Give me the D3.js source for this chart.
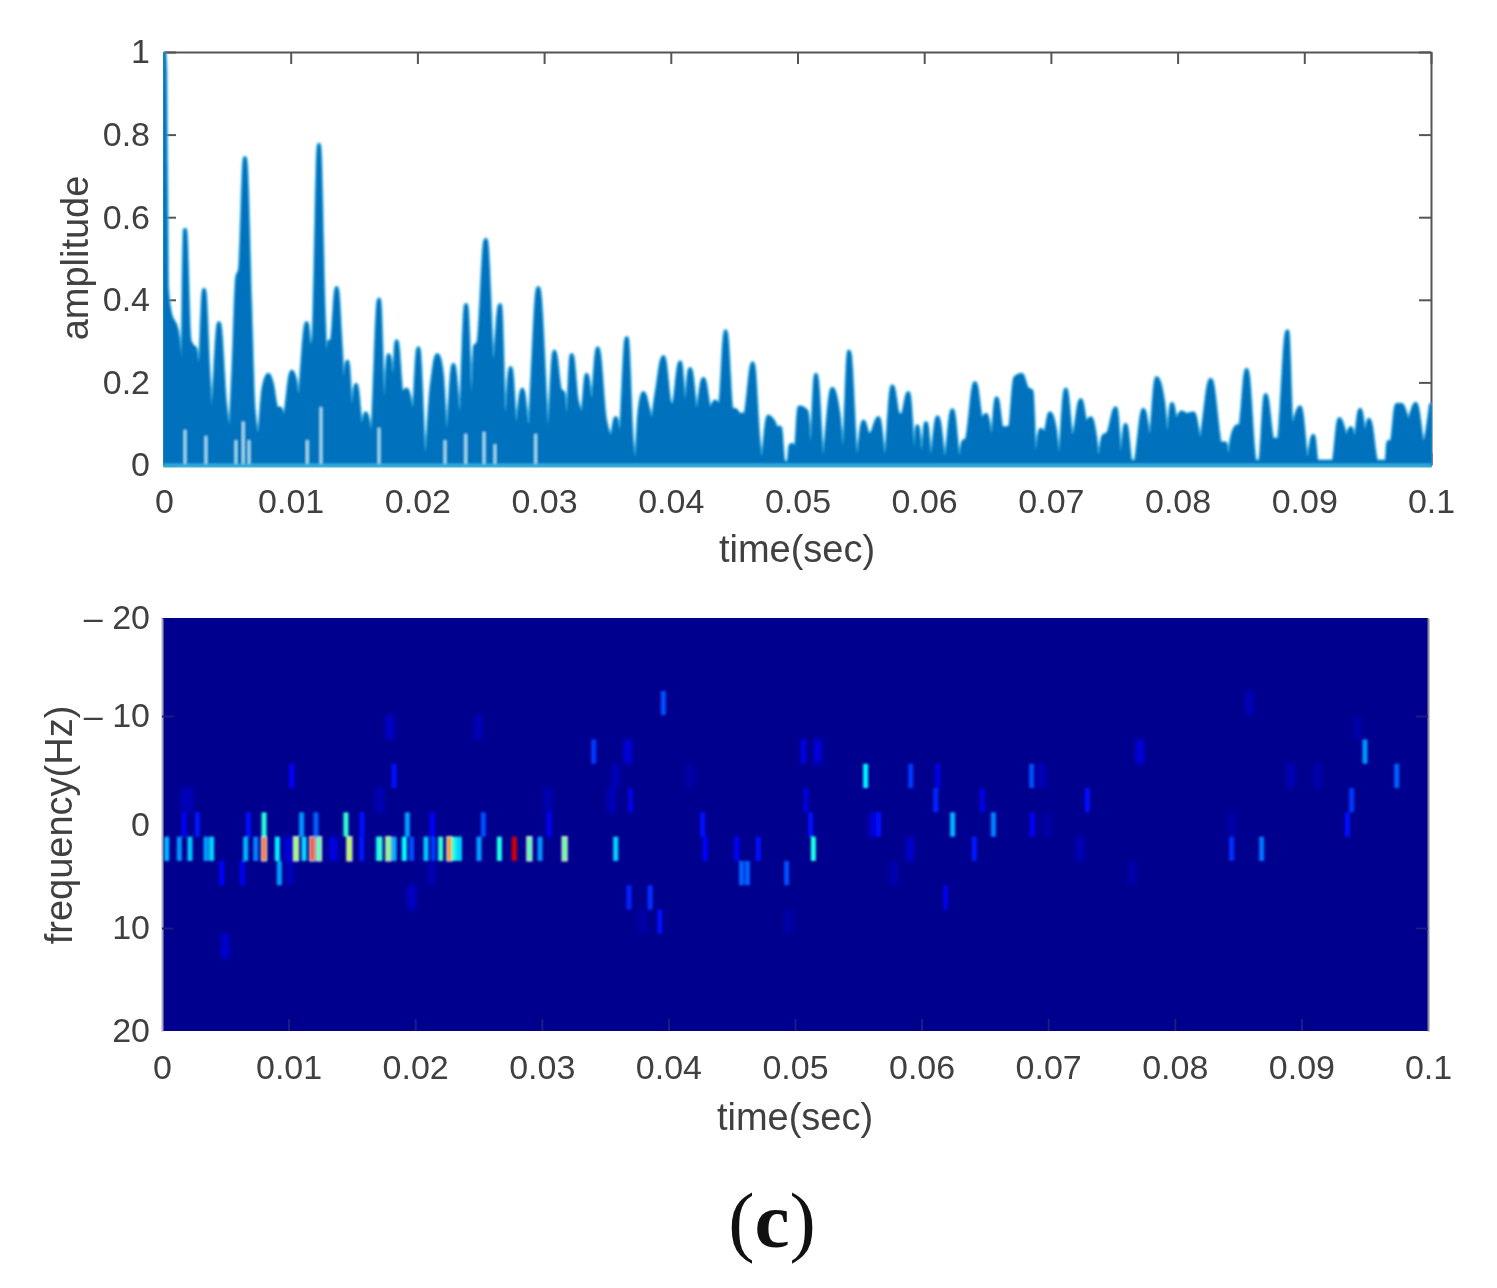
<!DOCTYPE html>
<html>
<head>
<meta charset="utf-8">
<script src="https://cdn.jsdelivr.net/npm/d3@7"></script>
<style>
    html, body { margin: 0; padding: 0; background: #fff; }
    svg { display: block; }
    text { font-family: "Liberation Sans", Arial, sans-serif; fill: #404040; }
</style>
</head>
<body>
<script>
// envelope of the upper plot, time in ms
const envTime = [0,.08,.21,.47,1,1.32,1.39,1.66,2,2.26,2.45,2.79,3.16,3.5,3.76,4.34,4.81,5.21,5.47,5.79,6,6.39,6.79,7.05,7.45,7.84,8.23,8.5,8.89,9.16,9.47,10.08,10.34,10.6,11.26,11.52,11.79,12.23,12.58,12.79,13.05,13.23,13.63,13.94,14.15,14.47,14.81,15.15,15.6,15.92,16.39,16.97,17.36,17.73,18.1,18.36,18.76,19.15,19.68,20.07,20.6,21.13,21.57,21.92,22.31,22.84,23.36,23.84,24.28,24.55,24.81,25.39,25.99,26.52,26.91,27.36,27.78,28.28,28.76,29.54,30.33,30.81,31.25,31.52,31.78,32.18,32.57,33.02,33.36,33.75,
    34.23,34.8,35.33,35.65,35.99,36.52,36.91,37.23,37.52,37.83,38.23,38.49,38.88,39.41,39.94,40.2,40.73,41.12,41.52,42.04,42.57,43.09,43.49,43.88,44.33,44.8,45.07,45.46,45.86,46.47,46.91,47.17,47.7,48.09,48.36,48.62,48.88,49.28,49.47,49.67,49.8,50.15,50.72,51.04,51.46,51.99,52.75,53.22,53.62,54.07,54.67,55.2,55.59,55.86,56.38,56.91,57.48,57.96,58.28,58.75,59.22,59.46,59.8,60.14,60.51,61.06,61.64,62.22,62.77,63.09,63.35,64.01,64.53,64.88,65.33,65.72,66.12,66.51,66.77,67.17,67.69,68.09,68.48,
    68.75,69.19,69.54,69.93,70.32,70.64,71.17,71.64,71.82,72.35,72.77,73.14,73.48,73.74,74.14,74.53,75.11,75.51,75.9,76.3,76.64,77.3,77.82,78.35,78.87,79.19,79.56,79.85,80.32,80.72,81.25,81.77,82.61,83.4,83.75,84.01,84.27,84.67,84.93,85.45,86.11,86.51,86.95,87.5,87.95,88.66,89,89.66,90.24,90.71,90.98,92.29,92.77,93.35,93.66,94,94.4,94.79,95.11,95.71,96.5,96.63,96.89,97.29,97.68,98.21,98.79,99.39,100];
const envAmp = [1,.948,.432,.367,.327,.222,.117,.569,.303,.287,.282,.222,.424,.222,.117,.343,.149,.085,.222,.456,.472,.743,.383,.141,.065,.182,.218,.198,.137,.137,.113,.226,.206,.153,.343,.282,.303,.775,.383,.242,.299,.299,.428,.287,.182,.25,.117,.194,.085,.125,.069,.4,.117,.266,.19,.299,.174,.182,.125,.282,.004,.19,.266,.222,.061,.242,.101,.387,.117,.287,.295,.545,.23,.387,.085,.234,.085,.182,.085,.428,.077,.274,.182,.174,.085,.266,.157,.125,.218,.141,
    .282,.109,.069,.113,.065,.307,.061,.004,.125,.174,.133,.105,.174,.261,.149,.145,.248,.133,.232,.125,.208,.133,.153,.145,.323,.133,.133,.121,.123,.246,.061,.004,.117,.105,.089,.09,.008,.004,.048,.048,.008,.139,.129,.02,.218,.012,.184,.125,.02,.274,.008,.105,.073,.077,.113,.008,.19,.121,.121,.174,.008,.093,.008,.101,.008,.115,.008,.132,.008,.056,.061,.198,.109,.121,.061,.161,.089,.089,.093,.21,.218,.186,.178,
    .008,.085,.077,.125,.085,.008,.182,.069,.073,.157,.101,.113,.069,.008,.069,.077,.137,.008,.097,.008,.008,.133,.061,.21,.149,.061,.148,.109,.127,.121,.125,.061,.206,.052,.052,.008,.061,.093,.095,.23,.008,.008,.169,.061,.062,.323,.093,.139,.008,.07,.008,.008,.111,.069,.089,.061,.133,.073,.109,.008,.008,.055,.056,.145,.145,.109,.148,.052,.145];

// pale slits that run up from the baseline of the upper plot
const slitTime = [1.66,3.31,5.68,6.26,6.71,11.31,12.39,16.97,22.18,23.81,25.26,26.12,29.33];
const slitAmp = [.085,.07,.06,.105,.06,.06,.14,.09,.06,.075,.08,.05,.075];

// sharp spectrogram cells: time in ms, frequency row, jet level
const cellTime = [.37,1.37,2.21,3.48,3.92,6.61,7.4,8.06,9.11,10.58,11.22,11.87,12.4,14.8,15.77,17.09,17.22,17.88,18.33,19.14,19.72,20.85,21.43,22.01,22.7,23.09,23.49,25.04,26.65,27.83,29.02,29.86,31.8,35.84,42.9,45.39,47.1,51.45,64.16,84.49,86.86,
    1.74,2.79,6.82,8.06,11.03,12.16,14.53,15.8,19.38,21.35,25.38,30.57,42.71,51.24,62.45,65.67,56.6,68.75,93.63,
    4.71,6.35,9.27,45.78,46.24,49.34,
    10.24,18.33,55.58,59.14,61.27,68.69,97.53,
    37,61.11,64.8,50.87,73.09,93.97,
    34.1,50.66,95.02,39.6,36.89,38.55,61.9,39.33];
const cellRow = [9,9,9,9,9,9,9,9,9,9,9,9,9,9,9,9,9,9,9,9,9,9,9,9,9,9,9,9,9,9,9,9,9,9,9,9,9,9,9,9,9,
    8,8,8,8,8,8,8,8,8,8,8,8,8,8,8,8,8,8,8,
    10,10,10,10,10,10,
    6,6,6,6,6,6,6,
    7,7,7,7,7,7,
    5,5,5,3,11,11,11,12];
const cellLevel = [.3,.27,.32,.28,.33,.3,.25,.76,.36,.52,.34,.8,.45,.55,.15,.34,.42,.5,.3,.38,.2,.32,.18,.42,.72,.4,.33,.28,.4,.92,.45,.27,.47,.33,.13,.12,.14,.4,.15,.17,.24,
    .12,.15,.14,.41,.27,.22,.42,.14,.28,.13,.2,.12,.14,.14,.3,.25,.14,.12,.14,
    .12,.11,.28,.22,.22,.2,
    .12,.14,.36,.18,.1,.2,.22,
    .1,.16,.1,.09,.14,.18,
    .18,.1,.27,.2,.16,.17,.1,.14];

// faint smeared cells of the spectrogram
const smearTime = [9.98,13.53,10.1,4.98,2.2,1.8,19.72,21.3,18,25,17.2,30.5,36.8,35.8,35.5,41.7,51.8,56.19,59.08,57.77,38,49.5,69.48,77.25,69.88,72.5,89.18,91.26,84.49,85.9,94.4,76.6];
const smearRow = [9,9,10,13,7,7,11,10,4,4,7,7,5,6,7,6,5,8,9,10,12,12,6,5,8,9,6,6,8,3,4,10];
const smearLevel = [.1,.1,.05,.08,.04,.05,.07,.04,.07,.05,.05,.04,.09,.05,.05,.03,.09,.09,.07,.04,.03,.03,.05,.09,.03,.05,.05,.04,.03,.05,.03,.03];

const timeTicks = [0,.01,.02,.03,.04,.05,.06,.07,.08,.09,.1];
const timeLabels = ["0","0.01","0.02","0.03","0.04","0.05","0.06","0.07","0.08","0.09","0.1"];
const ampTicks = [0,.2,.4,.6,.8,1];
const ampLabels = ["0","0.2","0.4","0.6","0.8","1"];
const freqTicks = [-20,-10,0,10,20];
const freqPlaces = [618,716,825,928,1031]; // ticks are unevenly placed in the scan
const freqLabels = ["– 20","– 10","0","10","20"];

const width = 1497, height = 1288;
const axisColor = "#555";

const svg = d3.select("body").append("svg").attr("width", width).attr("height", height);

// the reference is a slightly soft raster
const defs = svg.append("defs");
[["soft", .8], ["softer", 2.2], ["textSoft", .4]].forEach(([id, s]) => {
    // region is big because some filtered groups sit under a translate
    defs.append("filter").attr("id", id)
        .attr("filterUnits", "userSpaceOnUse")
        .attr("x", -2000).attr("y", -2000).attr("width", 5000).attr("height", 5000)
        .append("feGaussianBlur").attr("stdDeviation", s);
});

// jet colormap
const jet = d3.scaleLinear()
    .domain([0, .125, .375, .625, .875, 1])
    .range(["#00008f", "#0000ff", "#00ffff", "#ffff00", "#ff0000", "#800000"])
    .clamp(true);

const ticksOf = (axis, vals, labels, padding) =>
    axis.tickValues(vals).tickFormat((d, i) => labels[i]).tickSizeInner(-12).tickSizeOuter(0).tickPadding(padding);

function styleAxis(g, color) {
    g.attr("filter", "url(#textSoft)");
    g.selectAll("path").attr("stroke", color).attr("stroke-width", 2);
    g.selectAll("line").attr("stroke", color).attr("stroke-width", 2);
    g.selectAll("text").attr("font-size", 34).attr("font-family", null).style("fill", "#404040");
}

function label(x, y, txt, rotate) {
    svg.append("text")
        .attr("transform", `translate(${x},${y})` + (rotate ? " rotate(-90)" : ""))
        .attr("text-anchor", "middle")
        .attr("font-size", 38)
        .attr("filter", "url(#textSoft)")
        .text(txt);
}

// upper plot
{
    const x = d3.scaleLinear().domain([0, .1]).range([164, 1431]);
    const y = d3.scaleLinear().domain([0, 1]).range([465, 52]);

    // axes go first, the fill hides their lower ticks
    svg.append("g").attr("transform", `translate(0,${y(0)})`)
        .call(ticksOf(d3.axisBottom(x), timeTicks, timeLabels, 24))
        .call(styleAxis, axisColor);
    svg.append("g").attr("transform", `translate(${x(0)},0)`)
        .call(ticksOf(d3.axisLeft(y), ampTicks, ampLabels, 14))
        .call(styleAxis, axisColor);
    svg.append("g").attr("transform", `translate(0,${y(1)})`)
        .call(ticksOf(d3.axisTop(x), timeTicks, timeLabels.map(() => ""), 0))
        .call(styleAxis, axisColor);
    svg.append("g").attr("transform", `translate(${x(.1)},0)`)
        .call(ticksOf(d3.axisRight(y), ampTicks, ampLabels.map(() => ""), 0))
        .call(styleAxis, axisColor);

    defs.append("clipPath").attr("id", "trace")
        .append("rect")
        .attr("x", x(0) - 1).attr("y", y(1))
        .attr("width", x(.1) - x(0) + 2).attr("height", y(0) - y(1) + 3);

    const area = d3.area()
        .x((d) => x(d[0] / 1000))
        .y0(y(0))
        .y1((d) => y(d[1]))
        .curve(d3.curveMonotoneX);

    const plot = svg.append("g").attr("clip-path", "url(#trace)").append("g").attr("filter", "url(#soft)");
    const envelope = d3.zip(envTime, envAmp);
    // pale halo, then the thick dark trace that fattens each peak
    plot.append("path")
        .datum(envelope)
        .attr("d", area)
        .attr("fill", "#0072bd")
        .attr("stroke", "#45bce6")
        .attr("stroke-width", 5)
        .attr("stroke-linejoin", "round");
    plot.append("path")
        .datum(envelope)
        .attr("d", area)
        .attr("fill", "#0072bd")
        .attr("stroke", "#0072bd")
        .attr("stroke-width", 3)
        .attr("stroke-linejoin", "round");

    plot.selectAll(".slit")
        .data(d3.zip(slitTime, slitAmp))
        .enter()
        .append("line")
        .attr("class", "slit")
        .attr("x1", (d) => x(d[0] / 1000))
        .attr("x2", (d) => x(d[0] / 1000))
        .attr("y1", y(0))
        .attr("y2", (d) => y(d[1]))
        .attr("stroke", "#a5e4f3")
        .attr("stroke-width", 2.6);

    plot.append("line")
        .attr("x1", x(0)).attr("x2", x(.1))
        .attr("y1", y(0)).attr("y2", y(0))
        .attr("stroke", "#2fb4e2").attr("stroke-width", 2.5);
}

label(797, 562, "time(sec)");
label(88, 258, "amplitude", true);

// lower plot
{
    const x = d3.scaleLinear().domain([0, .1]).range([162, 1428]);
    const y = d3.scaleLinear().domain(freqTicks).range(freqPlaces);
    const rows = d3.scaleBand().domain(d3.range(17)).range([618, 1031]);

    svg.append("rect")
        .attr("x", x(0)).attr("y", y(-20))
        .attr("width", x(.1) - x(0)).attr("height", y(20) - y(-20))
        .attr("fill", jet(0));

    const clip = defs.append("clipPath").attr("id", "map");
    clip.append("rect")
        .attr("x", x(0)).attr("y", y(-20))
        .attr("width", x(.1) - x(0)).attr("height", y(20) - y(-20));

    const drawCells = (time, row, level, span, filter) => {
        svg.append("g")
            .attr("clip-path", "url(#map)")
            .append("g")
            .attr("filter", filter)
            .selectAll("rect")
            .data(d3.zip(time, row, level))
            .enter()
            .append("rect")
            .attr("x", (d) => x((d[0] - span / 2) / 1000))
            .attr("width", x(span / 1000) - x(0))
            .attr("y", (d) => rows(d[1]))
            .attr("height", rows.bandwidth())
            .attr("fill", (d) => jet(d[2]))
            // hot cells look washed out in the scan
            .attr("stroke", (d) => (d[2] > .42 && d[2] < .85 ? "#d8d8d8" : "none"))
            .attr("stroke-width", 1.2);
    };
    drawCells(smearTime, smearRow, smearLevel, .62, "url(#softer)");
    drawCells(cellTime, cellRow, cellLevel, .4, "url(#soft)");

    const bottomAxis = svg.append("g").attr("transform", `translate(0,${y(20)})`)
        .call(ticksOf(d3.axisBottom(x), timeTicks, timeLabels, 24))
        .call(styleAxis, "#1c1c86");
    bottomAxis.select("path").remove();
    const leftAxis = svg.append("g").attr("transform", `translate(${x(0)},0)`)
        .call(ticksOf(d3.axisLeft(y), freqTicks, freqLabels, 12))
        .call(styleAxis, "#1c1c86");
    leftAxis.select("path").attr("stroke", "#a8a8b8");
    const rightAxis = svg.append("g").attr("transform", `translate(${x(.1)},0)`)
        .call(ticksOf(d3.axisRight(y), freqTicks, freqLabels.map(() => ""), 0))
        .call(styleAxis, "#1c1c86");
    rightAxis.select("path").attr("stroke", "#8a8a9a");

    // tick marks at the corners do not show
    [bottomAxis, leftAxis, rightAxis].forEach((a) => {
        a.selectAll(".tick line").filter((d) => d === 0 || d === .1 || d === -20 || d === 20).remove();
    });
}

label(795, 1130, "time(sec)");
label(72, 825, "frequency(Hz)", true);

// panel letter
const panel = svg.append("text")
    .attr("x", 772).attr("y", 1247)
    .attr("text-anchor", "middle")
    .attr("font-size", 79)
    .style("font-family", "'Liberation Serif', 'Times New Roman', serif")
    .style("fill", "#111");
panel.append("tspan").text("(");
panel.append("tspan").attr("font-weight", "bold").text("c");
panel.append("tspan").text(")");
</script>
</body>
</html>
